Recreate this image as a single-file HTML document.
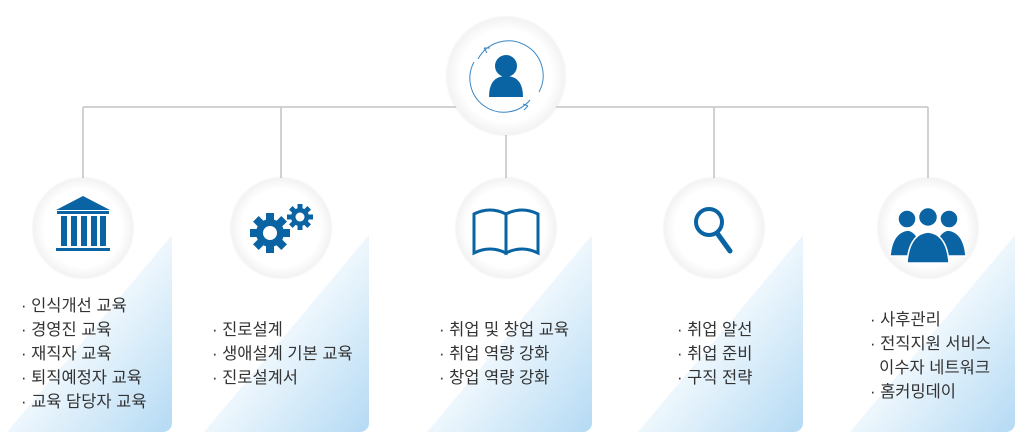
<!DOCTYPE html>
<html><head><meta charset="utf-8"><style>
body{margin:0;width:1024px;height:440px;background:#fff;position:relative;overflow:hidden;font-family:"Liberation Sans","Noto Sans CJK KR",sans-serif;}
.p{position:absolute;top:235px;height:197px;width:165px;border-radius:0 0 9px 0;background:linear-gradient(to bottom right,rgba(255,255,255,0) 50%,#eef7fd 50%,#b4daf4 100%);}
.t{position:absolute;font-size:16.5px;line-height:24px;color:#333;white-space:pre;}
.c{position:absolute;width:100px;height:100px;border-radius:50%;background:radial-gradient(circle,#fff 0%,#fff 55%,#ebebeb 80%,#d6d6d6 100%);box-shadow:0 0 2px rgba(0,0,0,0.1);}
</style></head><body>
<div class="p" style="left:7px"></div>
<div class="p" style="left:204px"></div>
<div class="p" style="left:427px"></div>
<div class="p" style="left:638px"></div>
<div class="p" style="left:850px"></div>
<svg width="1024" height="440" style="position:absolute;left:0;top:0">
<g stroke="#c4c4c4" stroke-width="1.5" fill="none">
<path d="M83 107H928M83 107V180M281 107V180M506 107V180M714 107V180M928 107V180"/>
</g>
</svg>
<div class="c" style="left:447px;top:17px;width:118px;height:118px"></div>
<div class="c" style="left:33px;top:178px"></div>
<div class="c" style="left:231px;top:178px"></div>
<div class="c" style="left:456px;top:178px"></div>
<div class="c" style="left:664px;top:178px"></div>
<div class="c" style="left:878px;top:178px"></div>
<svg width="1024" height="440" style="position:absolute;left:0;top:0">
<g fill="#0a64a4">
<circle cx="506" cy="66" r="11"/>
<path d="M489 97 Q489 76 506 76 Q523 76 523 97Z"/>
</g>
<g stroke="#3b87c4" stroke-width="1" fill="none">
<path d="M478 59 A34 34 0 0 1 539 92"/>
<path d="M530 100 A34 34 0 0 1 474 62"/>
<path d="M484 48 L487 53 M484 48 L490 48"/>
<path d="M528 106 L523 104 M528 106 L524 110"/>
</g>
<g fill="#0a64a4">
<path d="M56 210 L83 196 L110 210Z"/>
<rect x="57" y="211" width="52" height="3"/>
<rect x="61" y="216" width="6" height="30"/>
<rect x="71" y="216" width="6" height="30"/>
<rect x="81" y="216" width="6" height="30"/>
<rect x="91" y="216" width="6" height="30"/>
<rect x="100" y="216" width="6" height="30"/>
<rect x="56" y="248" width="54" height="3"/>
</g>
<g fill="#0a64a4">
<g transform="translate(270,233)">
<circle r="14"/>
<g><rect x="-4" y="-20" width="8" height="40"/><rect x="-4" y="-20" width="8" height="40" transform="rotate(45)"/><rect x="-4" y="-20" width="8" height="40" transform="rotate(90)"/><rect x="-4" y="-20" width="8" height="40" transform="rotate(135)"/></g>
<circle r="7" fill="#fff"/>
</g>
<g transform="translate(300,217)">
<circle r="9"/>
<g><rect x="-2.5" y="-13" width="5" height="26"/><rect x="-2.5" y="-13" width="5" height="26" transform="rotate(45)"/><rect x="-2.5" y="-13" width="5" height="26" transform="rotate(90)"/><rect x="-2.5" y="-13" width="5" height="26" transform="rotate(135)"/></g>
<circle r="4.5" fill="#fff"/>
</g>
</g>
<g fill="none" stroke="#0a64a4" stroke-width="3">
<path d="M474 214 Q490 206 506 214 V253 Q490 245 474 253Z"/>
<path d="M506 214 Q522 206 538 214 V253 Q522 245 506 253Z"/>
</g>
<g stroke="#0a64a4" fill="none" stroke-linecap="round">
<circle cx="709" cy="222" r="13" stroke-width="4"/>
<path d="M717 233 L730 251" stroke-width="5"/>
</g>
<g fill="#0a64a4" stroke="#fff" stroke-width="1.5">
<circle cx="907" cy="219" r="9"/>
<circle cx="949" cy="219" r="9"/>
<path d="M890 256 Q892 232 908 230 Q920 232 922 256Z"/>
<path d="M934 256 Q936 232 948 230 Q964 232 966 256Z"/>
<circle cx="928" cy="217" r="9.5"/>
<path d="M907 263 Q909 234 928 232 Q947 234 949 263Z"/>
</g>
</svg>
<div class="t" style="left:21px;top:294px">· 인식개선 교육
· 경영진 교육
· 재직자 교육
· 퇴직예정자 교육
· 교육 담당자 교육</div>
<div class="t" style="left:212px;top:318px">· 진로설계
· 생애설계 기본 교육
· 진로설계서</div>
<div class="t" style="left:439px;top:318px">· 취업 및 창업 교육
· 취업 역량 강화
· 창업 역량 강화</div>
<div class="t" style="left:677px;top:318px">· 취업 알선
· 취업 준비
· 구직 전략</div>
<div class="t" style="left:870px;top:308px">· 사후관리
· 전직지원 서비스
  이수자 네트워크
· 홈커밍데이</div>
</body></html>
